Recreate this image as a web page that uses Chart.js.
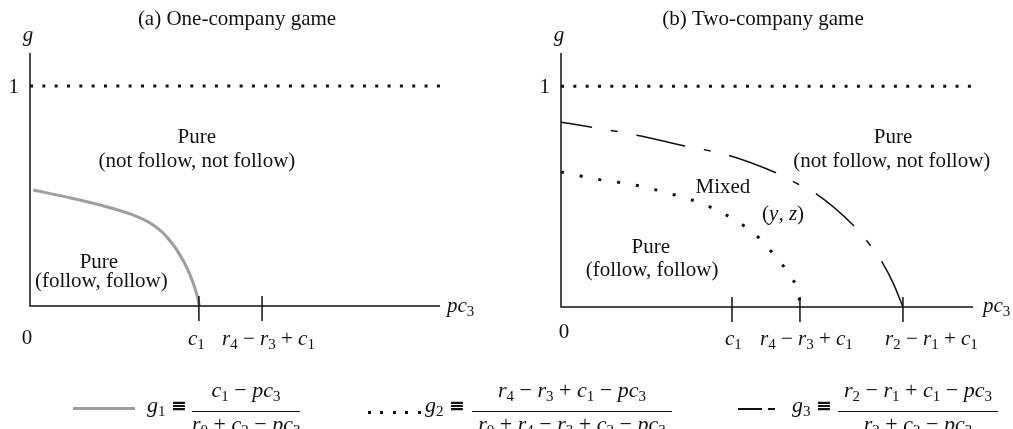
<!DOCTYPE html>
<html>
<head>
<meta charset="utf-8">
<script src="https://cdn.jsdelivr.net/npm/chart.js@4.4.1/dist/chart.umd.min.js"></script>
<style>
  body { margin: 0; background: #fff; width: 1013px; height: 429px; overflow: hidden; position: relative; }
  canvas { position: absolute; top: 0; }
  #ca { left: 0; }
  #cb { left: 500px; }
  #legend { position: absolute; left: 0; top: 0; width: 1013px; height: 429px; font: 22px "Liberation Serif", serif; color: #111; }
  #legend div { position: absolute; white-space: nowrap; }
  .s { font-size: 15px; position: relative; top: 4px; }
  .eq { font: bold 19px "DejaVu Serif", serif; }
  .lab { top: 393px; line-height: 24px; }
  .frac { top: 378px; text-align: center; line-height: 24px; }
  .frac .num { position: static !important; padding-bottom: 7px; border-bottom: 1.5px solid #111; }
  .frac .den { position: static !important; }
</style>
</head>
<body>
<canvas id="ca" width="500" height="360"></canvas>
<canvas id="cb" width="513" height="360"></canvas>

<div id="legend">
  <div style="left:73px;top:407px;width:62px;height:3px;background:#9e9e9e"></div>
  <div class="lab" style="left:147px"><i>g</i><span class="s">1</span> <span class="eq">≡</span></div>
  <div class="frac" style="left:192px;width:108px">
    <div class="num"><i>c</i><span class="s">1</span> − <i>pc</i><span class="s">3</span></div>
    <div class="den"><i>r</i><span class="s">0</span> + <i>c</i><span class="s">2</span> − <i>pc</i><span class="s">3</span></div>
  </div>

  <div style="left:368px;top:411px;width:53px;height:3px;background:repeating-linear-gradient(to right,#111 0 3px,transparent 3px 12.4px)"></div>
  <div class="lab" style="left:425px"><i>g</i><span class="s">2</span> <span class="eq">≡</span></div>
  <div class="frac" style="left:472px;width:200px">
    <div class="num"><i>r</i><span class="s">4</span> − <i>r</i><span class="s">3</span> + <i>c</i><span class="s">1</span> − <i>pc</i><span class="s">3</span></div>
    <div class="den"><i>r</i><span class="s">0</span> + <i>r</i><span class="s">4</span> − <i>r</i><span class="s">3</span> + <i>c</i><span class="s">2</span> − <i>pc</i><span class="s">3</span></div>
  </div>

  <div style="left:738px;top:408px;width:24px;height:1.5px;background:#111"></div>
  <div style="left:768px;top:408px;width:7px;height:1.5px;background:#111"></div>
  <div class="lab" style="left:792px"><i>g</i><span class="s">3</span> <span class="eq">≡</span></div>
  <div class="frac" style="left:838px;width:160px">
    <div class="num"><i>r</i><span class="s">2</span> − <i>r</i><span class="s">1</span> + <i>c</i><span class="s">1</span> − <i>pc</i><span class="s">3</span></div>
    <div class="den"><i>r</i><span class="s">2</span> + <i>c</i><span class="s">2</span> − <i>pc</i><span class="s">3</span></div>
  </div>
</div>

<script>
// axes run pc3 = 0..10 and g = 0..1.15 (g = 1 is the dotted upper bound)
const X_MAX = 10;
const Y_MAX = 1.15;

// upper bound g = 1, drawn in both panels
const boundX = [0, 10];
const boundY = [1, 1];

// (a) g1 boundary
const g1X = [0.08, 0.90, 1.71, 2.51, 2.93, 3.34, 3.73, 3.98, 4.10, 4.13];
const g1Y = [0.527, 0.495, 0.459, 0.414, 0.377, 0.314, 0.209, 0.105, 0.030, 0];

// (b) g2 (dotted) and g3 (dash-dot) boundaries
const g2X = [0, 0.87, 1.80, 2.69, 3.57, 4.34, 4.76, 5.05, 5.36, 5.61, 5.78, 5.80];
const g2Y = [0.611, 0.579, 0.552, 0.511, 0.457, 0.380, 0.321, 0.262, 0.195, 0.127, 0.045, 0];
const g3X = [0, 0.75, 1.84, 3.01, 4.05, 5.24, 5.75, 6.17, 7.09, 7.50, 7.79, 8.06, 8.30];
const g3Y = [0.837, 0.814, 0.778, 0.729, 0.688, 0.606, 0.557, 0.516, 0.371, 0.281, 0.204, 0.109, 0];

// marks on the pc3 axis
const ticksA = [4.12, 5.66];
const ticksB = [4.15, 5.80, 8.30];

// rich labels: [text, 'i' italic | 'n' normal | 's' subscript]
const C1 = [['c', 'i'], ['1', 's']];
const R4 = [['r', 'i'], ['4', 's'], [' − ', 'n'], ['r', 'i'], ['3', 's'], [' + ', 'n'], ['c', 'i'], ['1', 's']];
const R2 = [['r', 'i'], ['2', 's'], [' − ', 'n'], ['r', 'i'], ['1', 's'], [' + ', 'n'], ['c', 'i'], ['1', 's']];
const tickLabelsA = [C1, R4];
const tickLabelsB = [C1, R4, R2];

const FONT = '"Liberation Serif", "Times New Roman", serif';
const INK = '#111';

function pts(xs, ys) {
  return xs.map((x, i) => ({ x, y: ys[i] }));
}

function fontOf(st, size) {
  if (st === 'i') return `italic ${size}px ${FONT}`;
  if (st === 's') return `${Math.round(size * 0.7)}px ${FONT}`;
  return `${size}px ${FONT}`;
}

// draw a run of mixed italic / subscript text, baseline at y
function drawRich(ctx, parts, x, y, align, size) {
  size = size || 21;
  let w = 0;
  parts.forEach(([t, st]) => { ctx.font = fontOf(st, size); w += ctx.measureText(t).width; });
  let cx = align === 'center' ? x - w / 2 : align === 'right' ? x - w : x;
  ctx.textAlign = 'left';
  ctx.textBaseline = 'alphabetic';
  parts.forEach(([t, st]) => {
    ctx.font = fontOf(st, size);
    ctx.fillText(t, cx, st === 's' ? y + 4 : y);
    cx += ctx.measureText(t).width;
  });
}

const txt = s => [[s, 'n']];

// axes, ticks and all panel texts
const sketchPlugin = {
  id: 'sketch',
  afterDraw(chart) {
    const p = chart.options.plugins.sketch;
    const ctx = chart.ctx;
    const xs = chart.scales.x, ys = chart.scales.y;
    const x0 = xs.getPixelForValue(0), y0 = ys.getPixelForValue(0);
    const xEnd = xs.getPixelForValue(X_MAX), yTop = ys.getPixelForValue(Y_MAX);

    ctx.save();
    ctx.strokeStyle = INK;
    ctx.fillStyle = INK;
    ctx.lineWidth = 1.5;
    ctx.beginPath();
    ctx.moveTo(x0, yTop);
    ctx.lineTo(x0, y0);
    ctx.lineTo(xEnd, y0);
    ctx.stroke();

    p.ticks.forEach((v, i) => {
      const x = xs.getPixelForValue(v);
      ctx.beginPath();
      ctx.moveTo(x, y0 - 10);
      ctx.lineTo(x, y0 + 15);
      ctx.stroke();
      drawRich(ctx, p.tickLabels[i], x + p.tickDx[i], 345, 'left');
    });

    // title, axis names, 0 and 1
    drawRich(ctx, txt(p.title), p.titleX, 25, 'center');
    drawRich(ctx, [['g', 'i']], x0 - 2, 41, 'center');
    drawRich(ctx, txt('1'), x0 - 11, ys.getPixelForValue(1) + 7, 'right');
    drawRich(ctx, txt('0'), x0 + p.zeroDx, p.zeroBase, 'center');
    drawRich(ctx, [['pc', 'i'], ['3', 's']], xEnd + p.pcDx, 312, 'left');

    // region names
    p.texts.forEach(t => {
      drawRich(ctx, t.parts, xs.getPixelForValue(t.x), ys.getPixelForValue(t.y), 'center');
    });
    ctx.restore();
  }
};

function baseOptions(padding, sketch) {
  return {
    responsive: false,
    animation: false,
    events: [],
    layout: { padding },
    elements: { point: { radius: 0 } },
    scales: {
      x: { type: 'linear', min: 0, max: X_MAX, display: false },
      y: { type: 'linear', min: 0, max: Y_MAX, display: false }
    },
    plugins: { legend: { display: false }, tooltip: { enabled: false }, sketch }
  };
}

function boundSet() {
  return {
    data: pts(boundX, boundY), showLine: true, borderColor: INK,
    borderWidth: 3, borderDash: [3, 9.33], borderCapStyle: 'butt'
  };
}

// (a) One-company game
new Chart(document.getElementById('ca'), {
  type: 'scatter',
  data: {
    datasets: [
      boundSet(),
      { data: pts(g1X, g1Y), showLine: true, borderColor: '#9e9e9e', borderWidth: 3, cubicInterpolationMode: 'monotone' }
    ]
  },
  options: baseOptions({ left: 30, right: 60, top: 53, bottom: 54 }, {
    title: '(a) One-company game', titleX: 237,
    ticks: ticksA, tickLabels: tickLabelsA, tickDx: [-11, -40],
    zeroDx: -3, zeroBase: 344, pcDx: 7,
    texts: [
      { x: 4.07, y: 0.741, parts: txt('Pure') },
      { x: 4.07, y: 0.632, parts: txt('(not follow, not follow)') },
      { x: 1.68, y: 0.173, parts: txt('Pure') },
      { x: 1.74, y: 0.086, parts: txt('(follow, follow)') }
    ]
  }),
  plugins: [sketchPlugin]
});

// (b) Two-company game
new Chart(document.getElementById('cb'), {
  type: 'scatter',
  data: {
    datasets: [
      boundSet(),
      { data: pts(g2X, g2Y), showLine: true, borderColor: INK, borderWidth: 3, borderDash: [3, 16], borderCapStyle: 'butt', cubicInterpolationMode: 'monotone' },
      { data: pts(g3X, g3Y), showLine: true, borderColor: INK, borderWidth: 1.5, borderDash: [50, 19, 7, 19], borderDashOffset: 18.5, cubicInterpolationMode: 'monotone' }
    ]
  },
  options: baseOptions({ left: 61, right: 40, top: 53, bottom: 53 }, {
    title: '(b) Two-company game', titleX: 263,
    ticks: ticksB, tickLabels: tickLabelsB, tickDx: [-7, -40, -18],
    zeroDx: 3, zeroBase: 338, pcDx: 10,
    texts: [
      { x: 8.06, y: 0.742, parts: txt('Pure') },
      { x: 8.03, y: 0.633, parts: txt('(not follow, not follow)') },
      { x: 3.93, y: 0.516, parts: txt('Mixed') },
      { x: 5.39, y: 0.394, parts: [['(', 'n'], ['y', 'i'], [', ', 'n'], ['z', 'i'], [')', 'n']] },
      { x: 2.18, y: 0.244, parts: txt('Pure') },
      { x: 2.21, y: 0.140, parts: txt('(follow, follow)') }
    ]
  }),
  plugins: [sketchPlugin]
});
</script>
</body>
</html>
